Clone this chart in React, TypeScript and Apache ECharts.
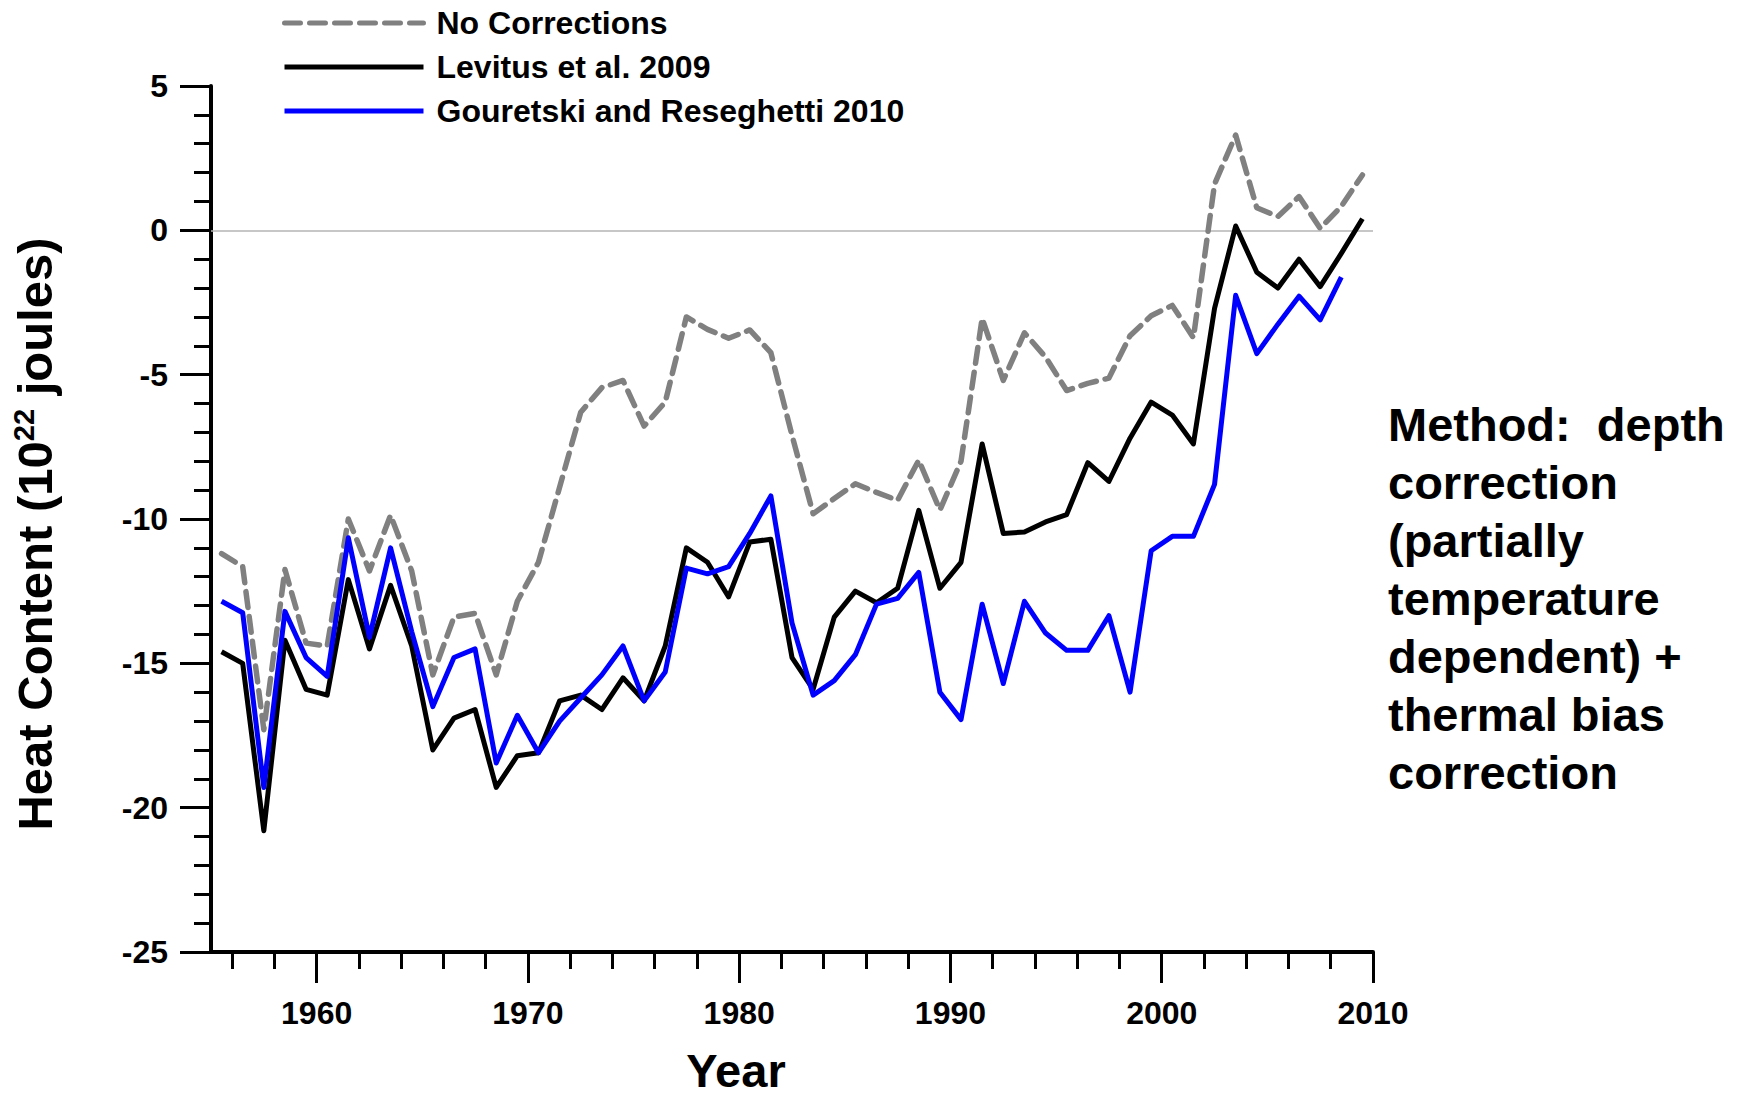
import React, { useEffect, useRef } from "react";
import * as echarts from "echarts";

// Mid-year positions of the annual values
const years = [
  1955.5, 1956.5, 1957.5, 1958.5, 1959.5, 1960.5, 1961.5, 1962.5, 1963.5, 1964.5,
  1965.5, 1966.5, 1967.5, 1968.5, 1969.5, 1970.5, 1971.5, 1972.5, 1973.5, 1974.5,
  1975.5, 1976.5, 1977.5, 1978.5, 1979.5, 1980.5, 1981.5, 1982.5, 1983.5, 1984.5,
  1985.5, 1986.5, 1987.5, 1988.5, 1989.5, 1990.5, 1991.5, 1992.5, 1993.5, 1994.5,
  1995.5, 1996.5, 1997.5, 1998.5, 1999.5, 2000.5, 2001.5, 2002.5, 2003.5, 2004.5,
  2005.5, 2006.5, 2007.5, 2008.5, 2009.5,
];

const noCorrections = [
  -11.2, -11.65, -17.3, -11.75, -14.3, -14.4, -10.0, -11.8, -9.87, -11.8,
  -15.4, -13.4, -13.27, -15.4, -12.85, -11.5, -8.9, -6.3, -5.45, -5.2,
  -6.78, -5.95, -3.0, -3.43, -3.74, -3.45, -4.24, -7.1, -9.82, -9.29,
  -8.78, -9.08, -9.35, -7.96, -9.69, -8.0, -3.05, -5.2, -3.55, -4.39,
  -5.55, -5.3, -5.12, -3.65, -2.96, -2.6, -3.72, 1.6, 3.3, 0.78,
  0.48, 1.17, 0.07, 0.83, 1.92,
];

const levitus2009 = [
  -14.6, -15.0, -20.8, -14.2, -15.9, -16.1, -12.1, -14.5, -12.3, -14.4,
  -18.0, -16.9, -16.6, -19.3, -18.2, -18.1, -16.3, -16.1, -16.6, -15.5,
  -16.3, -14.4, -11.0, -11.5, -12.7, -10.8, -10.7, -14.8, -15.9, -13.4,
  -12.5, -12.9, -12.4, -9.7, -12.4, -11.5, -7.4, -10.5, -10.45, -10.1,
  -9.85, -8.05, -8.7, -7.2, -5.95, -6.4, -7.4, -2.7, 0.15, -1.45,
  -2.0, -1.0, -1.95, -0.8, 0.4,
];

const gouretski2010 = [
  -12.85, -13.25, -19.3, -13.2, -14.8, -15.45, -10.65, -14.1, -11.0, -13.9,
  -16.5, -14.8, -14.5, -18.45, -16.8, -18.1, -17.0, -16.2, -15.4, -14.4,
  -16.3, -15.3, -11.7, -11.9, -11.65, -10.5, -9.2, -13.6, -16.1, -15.6,
  -14.7, -12.95, -12.75, -11.85, -16.0, -16.95, -12.95, -15.7, -12.85, -13.95,
  -14.55, -14.55, -13.35, -16.0, -11.1, -10.6, -10.6, -8.8, -2.25, -4.27,
  -3.25, -2.28, -3.1, -1.62,
];

const seriesNames = ["No Corrections", "Levitus et al. 2009", "Gouretski and Reseghetti 2010"];
const xLabelYears = [1960, 1970, 1980, 1990, 2000, 2010];
const xMinorYears = [
  1956, 1958, 1962, 1964, 1966, 1968, 1972, 1974, 1976, 1978, 1982, 1984, 1986, 1988,
  1992, 1994, 1996, 1998, 2002, 2004, 2006, 2008,
];
const xMin = 1955;
const xMax = 2010;
const yMin = -25;
const yMax = 5;

const annotation = "Method:  depth\ncorrection\n(partially\ntemperature\ndependent) +\nthermal bias\ncorrection";

const FONT = "'Liberation Sans', Arial, Helvetica, sans-serif";

function pairs(vals: number[]) {
  return vals.map((v, i) => [years[i], v]);
}

export default function App() {
  const ref = useRef<HTMLDivElement>(null);

  useEffect(() => {
    if (!ref.current) return;
    const chart = echarts.init(ref.current, null, { renderer: "svg" });
    const gridRect = { left: 211, top: 86, right: 364, bottom: 148 };
    const option: any = {
      animation: false,
      backgroundColor: "#ffffff",
      textStyle: { fontFamily: FONT },
      grid: [
        { ...gridRect, containLabel: false },
        { ...gridRect, containLabel: false },
      ],
      legend: {
        orient: "vertical",
        left: 282,
        top: 7,
        padding: 0,
        itemWidth: 139,
        itemHeight: 20,
        itemGap: 12,
        data: seriesNames,
        itemStyle: { opacity: 0 },
        lineStyle: { width: 5 },
        textStyle: {
          fontFamily: FONT,
          fontSize: 32,
          fontWeight: "bold",
          color: "#000",
          lineHeight: 31,
          padding: [0, 0, 0, 8],
        },
      },
      xAxis: [
        {
          type: "value",
          gridIndex: 0,
          min: xMin,
          max: xMax,
          position: "bottom",
          splitLine: { show: false },
          axisLine: { show: true, onZero: false, lineStyle: { color: "#000", width: 4 } },
          axisTick: {
            show: true,
            customValues: xLabelYears,
            length: 31,
            lineStyle: { color: "#000", width: 3 },
          },
          axisLabel: {
            customValues: xLabelYears,
            formatter: (v: number) => String(v),
            margin: 45,
            fontFamily: FONT,
            fontSize: 32,
            fontWeight: "bold",
            color: "#000",
            lineHeight: 32,
          },
        },
        {
          type: "value",
          gridIndex: 1,
          min: xMin,
          max: xMax,
          position: "bottom",
          splitLine: { show: false },
          axisLine: { show: false, onZero: false },
          axisTick: {
            show: true,
            customValues: xMinorYears,
            length: 17,
            lineStyle: { color: "#000", width: 3 },
          },
          axisLabel: { show: false },
        },
      ],
      yAxis: [
        {
          type: "value",
          gridIndex: 0,
          min: yMin,
          max: yMax,
          interval: 5,
          position: "left",
          splitLine: { show: false },
          axisLine: { show: true, onZero: false, lineStyle: { color: "#000", width: 4 } },
          axisTick: { show: true, length: 31, lineStyle: { color: "#000", width: 3 } },
          axisLabel: {
            margin: 43,
            fontFamily: FONT,
            fontSize: 32,
            fontWeight: "bold",
            color: "#000",
          },
        },
        {
          type: "value",
          gridIndex: 1,
          min: yMin,
          max: yMax,
          interval: 1,
          position: "left",
          splitLine: { show: false },
          axisLine: { show: false, onZero: false },
          axisTick: { show: true, length: 17, lineStyle: { color: "#000", width: 3 } },
          axisLabel: { show: false },
        },
      ],
      series: [
        {
          name: seriesNames[0],
          type: "line",
          xAxisIndex: 0,
          yAxisIndex: 0,
          data: pairs(noCorrections),
          showSymbol: false,
          symbol: "none",
          z: 2,
          lineStyle: { color: "#808080", width: 5.5, type: [16, 9], cap: "round", join: "round" },
          itemStyle: { color: "#808080" },
          markLine: {
            silent: true,
            symbol: "none",
            label: { show: false },
            lineStyle: { color: "#b4b4b4", width: 1.5, type: "solid" },
            data: [{ yAxis: 0 }],
            z: 1,
          },
        },
        {
          name: seriesNames[1],
          type: "line",
          xAxisIndex: 0,
          yAxisIndex: 0,
          data: pairs(levitus2009),
          showSymbol: false,
          symbol: "none",
          z: 3,
          lineStyle: { color: "#000000", width: 5, join: "round" },
          itemStyle: { color: "#000000" },
        },
        {
          name: seriesNames[2],
          type: "line",
          xAxisIndex: 0,
          yAxisIndex: 0,
          data: pairs(gouretski2010),
          showSymbol: false,
          symbol: "none",
          z: 4,
          lineStyle: { color: "#0000ff", width: 5, join: "round" },
          itemStyle: { color: "#0000ff" },
        },
      ],
      graphic: [
        {
          type: "text",
          x: 35,
          y: 534,
          rotation: Math.PI / 2,
          style: {
            text: "Heat Content (10{sup|22} joules)",
            font: `bold 49px ${FONT}`,
            fill: "#000",
            align: "center",
            verticalAlign: "middle",
            lineHeight: 52,
            rich: {
              sup: {
                font: `bold 29px ${FONT}`,
                fill: "#000",
                verticalAlign: "top",
                lineHeight: 30,
              },
            },
          },
        },
        {
          type: "text",
          x: 736,
          y: 1070,
          style: {
            text: "Year",
            font: `bold 47px ${FONT}`,
            fill: "#000",
            align: "center",
            verticalAlign: "middle",
            lineHeight: 44,
          },
        },
        {
          type: "text",
          x: 1388,
          y: 395,
          style: {
            text: annotation,
            font: `bold 47px ${FONT}`,
            fill: "#000",
            align: "left",
            verticalAlign: "top",
            lineHeight: 58,
          },
        },
      ],
    };
    chart.setOption(option);
    return () => {
      chart.dispose();
    };
  }, []);

  return (
    <div
      ref={ref}
      style={{ position: "fixed", left: 0, top: 0, width: 1737, height: 1100, background: "#fff" }}
    />
  );
}
